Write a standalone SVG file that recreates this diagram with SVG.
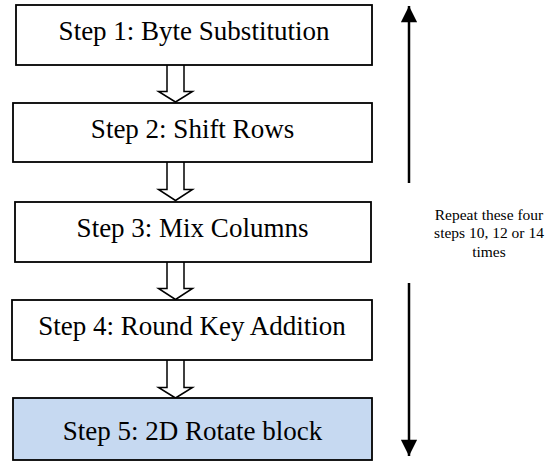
<svg xmlns="http://www.w3.org/2000/svg" width="547" height="462" viewBox="0 0 547 462">
<style>
.box{fill:#ffffff;stroke:#000;stroke-width:1.8}
.hl{fill:#c6d9f1}
.ha{fill:#fff;stroke:#000;stroke-width:1.5;stroke-linejoin:miter}
.ln{stroke:#000;stroke-width:2.5;fill:none}
.t{font-family:"Liberation Serif",serif;font-size:27px;text-anchor:middle;fill:#000}
.s{font-family:"Liberation Serif",serif;font-size:15.5px;text-anchor:middle;fill:#000}
</style>
<defs>
<marker id="ah" viewBox="0 0 10 10" refX="10" refY="5" markerWidth="7" markerHeight="6.5" orient="auto" markerUnits="strokeWidth">
<path d="M0,0 L10,5 L0,10 Z" fill="#000"/>
</marker>
</defs>
<g id="connectors">
<path class="ha" d="M167,65 V91.5 H158.5 L175.5,102 L192.5,91.5 H184 V65"/>
<path class="ha" d="M167,162 V189.5 H158.5 L175.5,200.5 L192.5,189.5 H184 V162"/>
<path class="ha" d="M167,262 V288.5 H158.5 L175.5,299.5 L192.5,288.5 H184 V262"/>
<path class="ha" d="M167,360 V387.5 H158.5 L175.5,398 L192.5,387.5 H184 V360"/>
<line class="ln" x1="409" y1="183" x2="409" y2="6" marker-end="url(#ah)"/>
<line class="ln" x1="409" y1="283" x2="409" y2="456" marker-end="url(#ah)"/>
</g>
<g id="step1">
<rect class="box" x="16" y="5" width="356" height="60"/>
<text class="t" x="194" y="40">Step 1: Byte Substitution</text>
</g>
<g id="step2">
<rect class="box" x="13" y="103" width="359" height="59"/>
<text class="t" x="192.5" y="138">Step 2: Shift Rows</text>
</g>
<g id="step3">
<rect class="box" x="15" y="202" width="356" height="60"/>
<text class="t" x="192.5" y="237">Step 3: Mix Columns</text>
</g>
<g id="step4">
<rect class="box" x="12" y="300" width="360" height="60"/>
<text class="t" x="192" y="335">Step 4: Round Key Addition</text>
</g>
<g id="step5">
<rect class="box hl" x="13" y="398" width="359" height="62"/>
<text class="t" x="192.5" y="440">Step 5: 2D Rotate block</text>
</g>
<g id="repeat-label">
<text class="s" x="489" y="220">Repeat these four</text>
<text class="s" x="489" y="238">steps 10, 12 or 14</text>
<text class="s" x="489" y="257">times</text>
</g>
</svg>
